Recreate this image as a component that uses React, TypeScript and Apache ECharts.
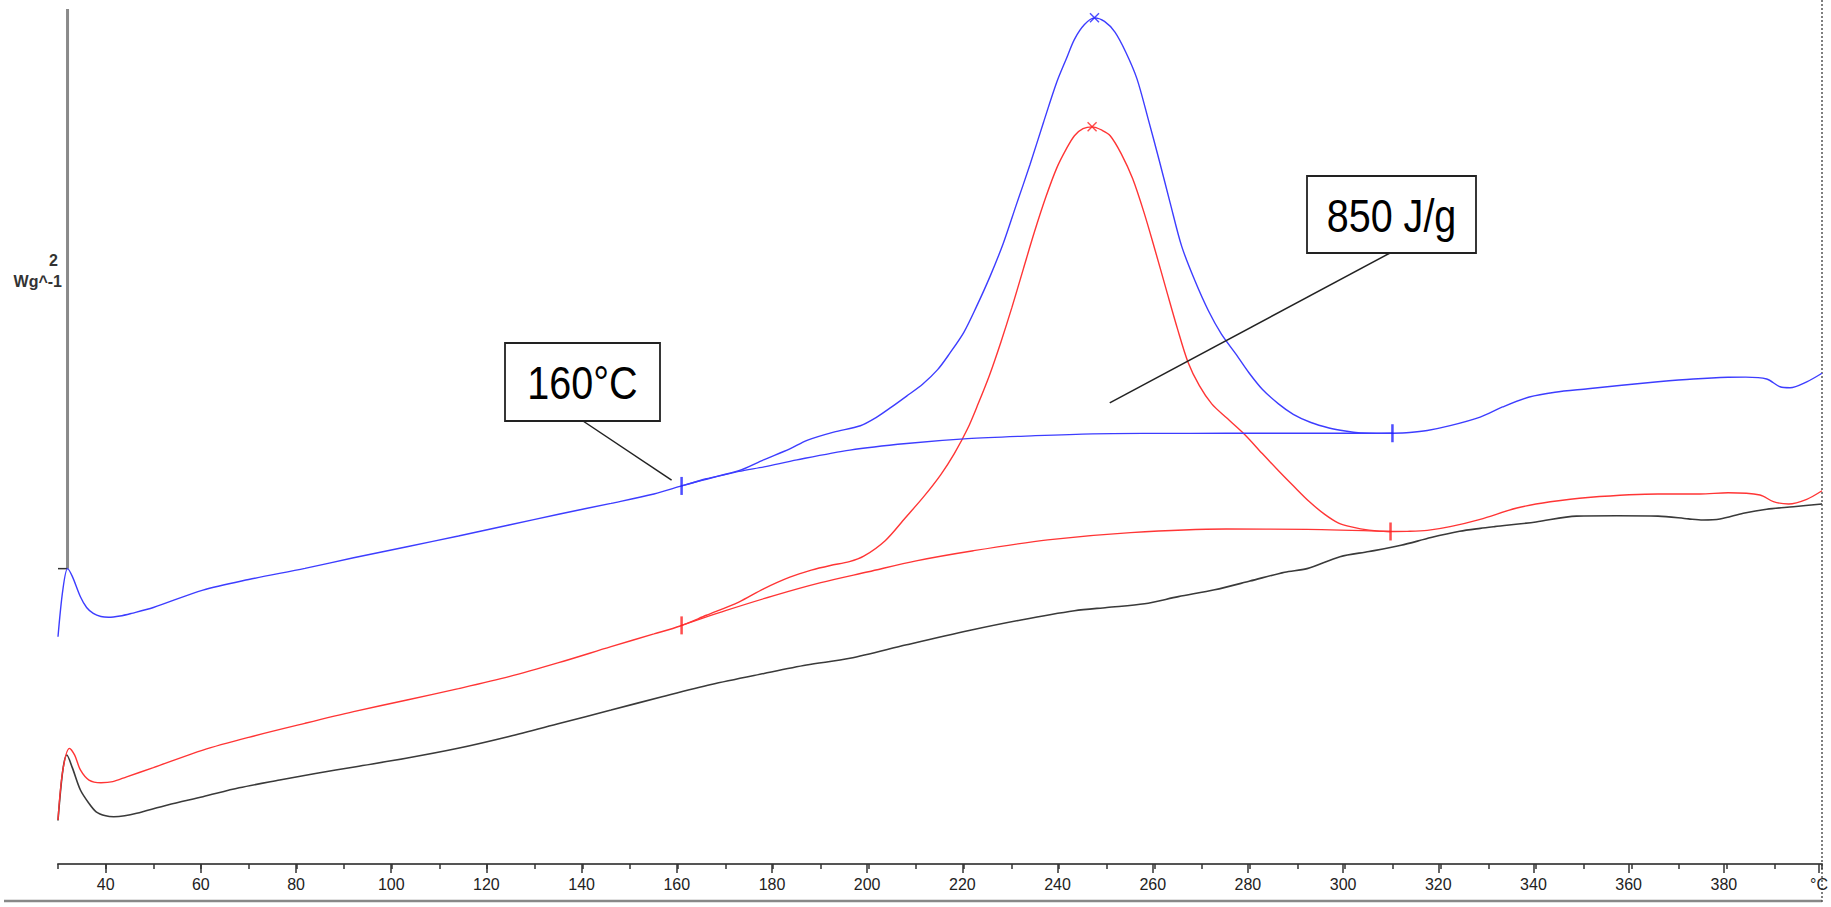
import React, { useEffect, useRef } from "react";
import * as echarts from "echarts";

type P = [number, number];

// Temperature (°C) vs. heat flow (W/g, arbitrary offset per curve)
const blueCurve: P[] = [
  [30, -0.438], [31, -0.14], [32, 0.0], [33, -0.05], [34.7, -0.181], [36, -0.25], [37.4, -0.288],
  [39, -0.308], [40.6, -0.313], [43, -0.305], [45.4, -0.288], [50, -0.25], [60.4, -0.138],
  [70, -0.07], [81.8, 0.002], [92, 0.07], [103.2, 0.141], [114, 0.21], [124.6, 0.281],
  [135, 0.35], [146, 0.42], [155, 0.48], [160.8, 0.532], [166, 0.578], [172.8, 0.63],
  [178, 0.7], [183.5, 0.77], [187.1, 0.825], [192.7, 0.878], [198.3, 0.919], [201.5, 0.97],
  [204.8, 1.039], [208, 1.11], [211.4, 1.188], [214.5, 1.28], [217, 1.383], [220, 1.52],
  [222.6, 1.682], [225.5, 1.88], [228.3, 2.095], [231, 2.34], [233.9, 2.601], [236.7, 2.87],
  [239.5, 3.13], [241.5, 3.28], [243.2, 3.405], [245.3, 3.5], [247.4, 3.543], [249.5, 3.52],
  [251.7, 3.451], [254, 3.32], [256.3, 3.152], [258.6, 2.9], [261, 2.624], [263.3, 2.35],
  [265.7, 2.073], [268.5, 1.85], [271.3, 1.659], [274, 1.51], [277, 1.383], [279.8, 1.26],
  [282.6, 1.154], [286, 1.06], [289.1, 0.993], [292.8, 0.94], [296.6, 0.905], [300, 0.885],
  [303.2, 0.873], [306.5, 0.87], [309.9, 0.871], [313.5, 0.876], [317.2, 0.889], [322, 0.92],
  [328.3, 0.975], [333, 1.04], [338.6, 1.104], [344, 1.135], [350.9, 1.157], [358, 1.18],
  [365.6, 1.202], [373, 1.22], [380.3, 1.231], [384, 1.232], [388.4, 1.22], [391.2, 1.17],
  [393.3, 1.164], [396.8, 1.202], [400, 1.257],
];

const blueBaseline: P[] = [
  [160.8, 0.532], [166, 0.575], [172.8, 0.625], [178.1, 0.655], [185, 0.7], [196.1, 0.763],
  [208, 0.805], [220.8, 0.836], [235, 0.855], [247, 0.867], [260, 0.87], [275, 0.871],
  [292, 0.871], [309.9, 0.871],
];

const redCurve: P[] = [
  [30, -1.617], [31, -1.3], [32.4, -1.156], [33.5, -1.2], [34.7, -1.295], [36.5, -1.36],
  [39, -1.377], [41.5, -1.37], [44.4, -1.339], [50, -1.28], [60.4, -1.167], [70, -1.085],
  [81.8, -0.995], [92, -0.92], [103.2, -0.845], [114, -0.772], [124.6, -0.695], [135, -0.605],
  [146, -0.502], [155, -0.42], [160.5, -0.369], [166, -0.3], [172.8, -0.215], [178, -0.13],
  [183.5, -0.055], [188, -0.01], [192, 0.02], [196, 0.045], [199, 0.08], [203.5, 0.18],
  [207.7, 0.326], [211.5, 0.46], [215.1, 0.602], [218, 0.74], [220.8, 0.901], [223, 1.06],
  [225.4, 1.246], [227.8, 1.46], [230.1, 1.682], [232.5, 1.93], [234.8, 2.165], [237.2, 2.39],
  [239.5, 2.578], [241.5, 2.7], [243.2, 2.785], [245, 2.83], [246.9, 2.842], [249, 2.82],
  [250.7, 2.785], [253, 2.67], [255.4, 2.509], [257.8, 2.29], [260.1, 2.05], [262.5, 1.79],
  [264.8, 1.544], [267, 1.33], [269.4, 1.177], [272, 1.06], [275.1, 0.97], [279, 0.86],
  [282.6, 0.74], [286, 0.63], [289.1, 0.533], [292.5, 0.43], [295.7, 0.349], [298.5, 0.295],
  [301.3, 0.269], [305, 0.248], [309, 0.239], [313, 0.24], [317.2, 0.246], [322, 0.27],
  [328.3, 0.317], [336, 0.39], [343, 0.43], [350.9, 0.458], [365.6, 0.48], [374.4, 0.48],
  [380.3, 0.488], [387, 0.474], [389.8, 0.431], [393, 0.416], [396.8, 0.446], [400, 0.501],
];

const redBaseline: P[] = [
  [160.8, -0.365], [170, -0.27], [180, -0.175], [190, -0.09], [200, -0.02], [210, 0.05],
  [222, 0.115], [237.6, 0.185], [255, 0.232], [275, 0.255], [292, 0.253], [309.5, 0.239],
];

const blackCurve: P[] = [
  [30, -1.62], [31, -1.3], [31.85, -1.199], [33, -1.28], [34.7, -1.424], [36.5, -1.51],
  [38, -1.564], [40, -1.59], [41.7, -1.596], [44, -1.59], [46.5, -1.574], [53, -1.52],
  [60.4, -1.467], [68, -1.41], [76.5, -1.36], [84, -1.318], [92.5, -1.274], [103, -1.22],
  [113.9, -1.156], [124.6, -1.08], [135.3, -0.995], [146, -0.91], [156.7, -0.824], [167, -0.745],
  [178.1, -0.674], [187, -0.62], [196.1, -0.577], [208, -0.49], [221.1, -0.398], [232, -0.33],
  [243.2, -0.271], [250, -0.25], [257.9, -0.226], [265, -0.18], [272.6, -0.136], [280, -0.08],
  [287.3, -0.023], [292, 0.0], [298.9, 0.077], [305, 0.11], [311.7, 0.15], [318, 0.2],
  [324, 0.24], [328.3, 0.259], [331.3, 0.27], [340, 0.3], [348.5, 0.338], [357, 0.34],
  [365.6, 0.338], [372, 0.32], [375, 0.313], [378.6, 0.319], [383.5, 0.356], [388.4, 0.382],
  [394, 0.398], [400, 0.416],
];

const blueLimits: P[] = [[160.8, 0.532], [309.9, 0.871]];
const redLimits: P[] = [[160.8, -0.365], [309.5, 0.239]];
const bluePeak: P[] = [[247.4, 3.543]];
const redPeak: P[] = [[246.9, 2.842]];

// scale bar: 0 .. 3.6 W/g at 32 °C, with "2 Wg^-1" label
const scaleBar: P[] = [[32, 0], [32, 3.6]];
const scaleTick: P[] = [[30, 0], [32, 0]];
const scaleValue = "2";
const scaleUnit = "Wg^-1";

const X_MIN = 30;
const X_MAX = 400;
const Y_MIN = -1.9;
const Y_MAX = 3.6;

const annotations = [
  { text: "160°C", anchor: [158.7, 0.57] as P, box: { x: 505, y: 343, w: 155, h: 78 }, from: [583, 421] },
  { text: "850 J/g", anchor: [250.6, 1.066] as P, box: { x: 1307, y: 176, w: 169, h: 77 }, from: [1390, 253] },
];

const BLUE = "#3d3dff";
const RED = "#ff3535";
const BLACK = "#3a3a3a";
const SANS = "'Liberation Sans', Arial, sans-serif";

const crossSymbol = "path://M0,1 L1,0 L5,4 L9,0 L10,1 L6,5 L10,9 L9,10 L5,6 L1,10 L0,9 L4,5 Z";

export default function App() {
  const ref = useRef<HTMLDivElement>(null);

  useEffect(() => {
    if (!ref.current) return;
    const chart = echarts.init(ref.current, undefined, { renderer: "svg" });
    const lineSeries = (name: string, data: P[], color: string, width: number, z = 2) => ({
      name,
      type: "line",
      xAxisIndex: 0,
      yAxisIndex: 0,
      data,
      showSymbol: false,
      smooth: 0.3,
      lineStyle: { color, width },
      itemStyle: { color },
      z,
      silent: true,
    });
    const option: any = {
      animation: false,
      backgroundColor: "#ffffff",
      grid: [
        { left: 58, right: 9, top: 9, bottom: 43 },
        { left: 58 + 10 * (1764 / 370), right: 9, top: 9, bottom: 43 },
      ],
      xAxis: [
        {
          gridIndex: 0, type: "value", min: X_MIN, max: X_MAX, interval: 10,
          axisLine: { show: true, onZero: false, lineStyle: { color: "#555", width: 2 } },
          axisTick: { show: true, length: 5, lineStyle: { color: "#333", width: 1.5 } },
          axisLabel: { show: false },
          splitLine: { show: false },
        },
        {
          gridIndex: 1, type: "value", min: 40, max: X_MAX, interval: 20,
          axisLine: { show: false, onZero: false },
          axisTick: { show: true, length: 9, lineStyle: { color: "#333", width: 1.5 } },
          axisLabel: {
            show: true, margin: 12, fontSize: 16, color: "#222", fontFamily: SANS,
            formatter: (v: number) => (v === X_MAX ? "°C" : String(v)),
          },
          splitLine: { show: false },
        },
      ],
      yAxis: [
        { gridIndex: 0, type: "value", min: Y_MIN, max: Y_MAX, show: false },
        { gridIndex: 1, type: "value", min: 0, max: 1, show: false },
      ],
      series: [
        { type: "line", data: scaleBar, showSymbol: false, lineStyle: { color: "#8a8a8a", width: 3 }, silent: true, z: 1 },
        { type: "line", data: scaleTick, showSymbol: false, lineStyle: { color: "#333", width: 1.5 }, silent: true, z: 1 },
        lineSeries("black", blackCurve, BLACK, 1.6),
        lineSeries("redBaseline", redBaseline, RED, 1.3),
        lineSeries("red", redCurve, RED, 1.4),
        lineSeries("blueBaseline", blueBaseline, BLUE, 1.3),
        lineSeries("blue", blueCurve, BLUE, 1.4),
        { type: "scatter", data: blueLimits, symbol: "rect", symbolSize: [2.5, 18], itemStyle: { color: "#2020ff" }, silent: true, z: 5 },
        { type: "scatter", data: redLimits, symbol: "rect", symbolSize: [2.5, 18], itemStyle: { color: "#ff2020" }, silent: true, z: 5 },
        { type: "scatter", data: bluePeak, symbol: crossSymbol, symbolSize: 10, itemStyle: { color: "#2020ff" }, silent: true, z: 5 },
        { type: "scatter", data: redPeak, symbol: crossSymbol, symbolSize: 10, itemStyle: { color: "#ff2020" }, silent: true, z: 5 },
      ],
    };
    chart.setOption(option);

    const graphics: any[] = [
      { type: "line", shape: { x1: 4, y1: 901, x2: 1822, y2: 901 }, style: { stroke: "#888", lineWidth: 2.5 }, silent: true },
      { type: "line", shape: { x1: 1822, y1: 0, x2: 1822, y2: 903 }, style: { stroke: "#555", lineWidth: 1.5, lineDash: [2, 2] }, silent: true },
      {
        type: "text", x: 58, y: 260,
        style: { text: scaleValue, fill: "#333", font: `bold 16px ${SANS}`, textAlign: "right", textVerticalAlign: "middle", align: "right", verticalAlign: "middle" },
        silent: true,
      },
      {
        type: "text", x: 62, y: 281,
        style: { text: scaleUnit, fill: "#333", font: `bold 16px ${SANS}`, textAlign: "right", textVerticalAlign: "middle", align: "right", verticalAlign: "middle" },
        silent: true,
      },
    ];
    annotations.forEach((a) => {
      const px = chart.convertToPixel({ gridIndex: 0 }, a.anchor) as number[];
      graphics.push({
        type: "line",
        shape: { x1: a.from[0], y1: a.from[1], x2: px[0], y2: px[1] },
        style: { stroke: "#222", lineWidth: 1.5 },
        silent: true, z: 10,
      });
      graphics.push({
        type: "rect",
        shape: { x: a.box.x, y: a.box.y, width: a.box.w, height: a.box.h },
        style: { fill: "#fff", stroke: "#222", lineWidth: 1.8 },
        silent: true, z: 11,
      });
      graphics.push({
        type: "text",
        x: a.box.x + a.box.w / 2, y: a.box.y + a.box.h / 2 + 1,
        scaleX: 0.86,
        style: { text: a.text, fill: "#000", font: `46px ${SANS}`, textAlign: "center", textVerticalAlign: "middle", align: "center", verticalAlign: "middle" },
        silent: true, z: 12,
      });
    });
    chart.setOption({ graphic: graphics });

    return () => chart.dispose();
  }, []);

  return (
    <div
      ref={ref}
      style={{ position: "fixed", left: 0, top: 0, width: 1831, height: 907, background: "#fff" }}
    />
  );
}
